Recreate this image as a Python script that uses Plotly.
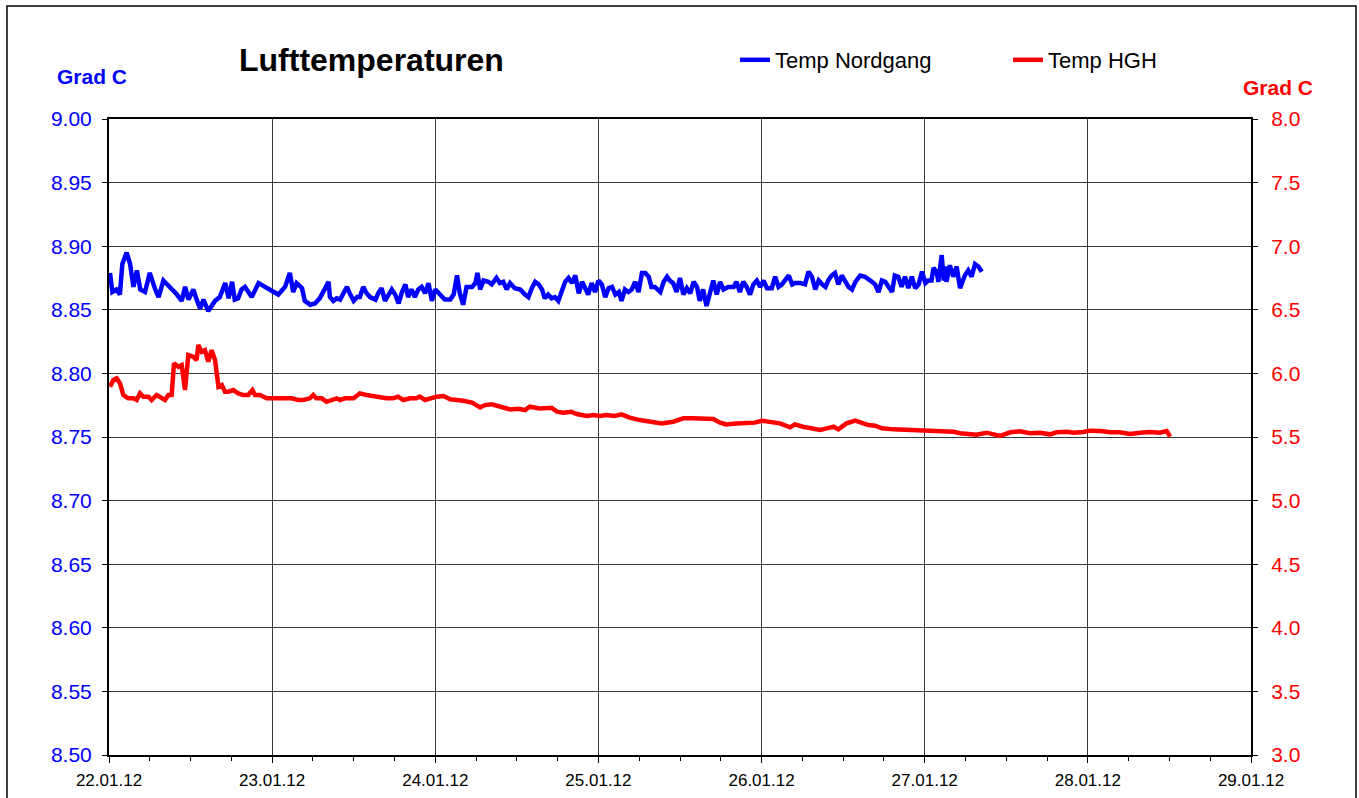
import pandas as pd
import plotly.graph_objects as go

# ---- data (hours after 22.01.12 00:00, temperature in Grad C) ----
nord_hours = [0.15, 0.5, 1.1, 1.6, 1.96, 2.6, 3.1, 3.6, 4.1, 4.6, 5.3, 6.0, 6.8, 7.3, 8.0, 9.0, 10.0, 10.7,
              11.2, 11.7, 12.4, 12.9, 13.4, 13.9, 14.6, 15.6, 16.3, 17.1, 17.6, 18.1, 18.5, 19.0, 19.5, 20.0,
              20.5, 21.0, 22.0, 23.0, 23.9, 24.9, 25.9, 26.6, 27.1, 27.6, 28.4, 28.8, 29.6, 30.3, 31.0, 31.8,
              32.3, 32.5, 33.0, 33.5, 34.0, 34.5, 35.0, 35.5, 36.0, 36.5, 36.9, 37.4, 37.9, 38.4, 39.2, 39.6,
              40.1, 40.6, 41.1, 41.6, 42.1, 42.6, 43.1, 43.6, 44.0, 44.5, 45.0, 45.5, 46.0, 46.5, 47.0, 47.5,
              48.0, 48.7, 49.4, 50.2, 50.7, 51.2, 51.6, 52.1, 52.6, 53.4, 53.9, 54.2, 54.6, 55.1, 55.8, 56.3,
              57.0, 57.5, 58.0, 58.5, 59.0, 59.7, 60.5, 61.2, 61.7, 62.2, 62.7, 63.2, 63.7, 64.1, 64.6, 65.1,
              65.6, 66.1, 66.6, 67.1, 67.6, 68.1, 68.6, 69.1, 69.6, 70.0, 70.5, 71.0, 71.5, 72.0, 72.5, 73.0,
              73.5, 74.0, 74.5, 75.0, 75.4, 75.9, 76.4, 76.9, 77.4, 77.9, 78.4, 78.9, 79.4, 79.8, 80.3, 81.1,
              81.6, 82.1, 82.5, 83.0, 83.5, 84.0, 84.5, 85.0, 85.5, 86.0, 86.5, 86.9, 87.4, 87.9, 88.4, 88.9,
              89.4, 89.9, 90.4, 91.1, 91.9, 92.3, 92.8, 93.3, 93.8, 94.3, 94.8, 95.3, 95.8, 96.3, 96.8, 97.0,
              97.5, 98.0, 98.5, 99.0, 99.5, 100.0, 100.5, 100.9, 101.7, 102.4, 102.9, 103.4, 103.9, 104.4,
              104.9, 105.4, 105.8, 106.3, 106.8, 107.3, 107.8, 108.3, 108.8, 109.3, 109.8, 110.5, 111.2, 112.0,
              112.7, 113.2, 113.7, 114.2, 114.7, 115.2, 115.6, 116.1, 116.6, 117.1, 117.6, 118.1, 118.6, 119.1,
              119.6, 120.1, 120.5, 121.0, 121.3, 121.8, 122.0, 122.5, 122.8, 123.0, 123.2, 123.7, 124.2, 124.7,
              125.2, 125.9, 126.4, 126.9, 127.4, 127.9, 128.4]
nord_temp = [8.879, 8.864, 8.866, 8.862, 8.886, 8.895, 8.886, 8.868, 8.881, 8.866, 8.864, 8.879, 8.866, 8.860,
             8.873, 8.868, 8.862, 8.857, 8.868, 8.858, 8.866, 8.858, 8.851, 8.858, 8.849, 8.857, 8.860, 8.871,
             8.859, 8.872, 8.858, 8.859, 8.866, 8.868, 8.864, 8.860, 8.871, 8.868, 8.866, 8.862, 8.868, 8.879,
             8.864, 8.871, 8.867, 8.857, 8.854, 8.855, 8.859, 8.867, 8.872, 8.860, 8.857, 8.859, 8.858, 8.863,
             8.868, 8.862, 8.857, 8.860, 8.860, 8.868, 8.863, 8.860, 8.858, 8.863, 8.867, 8.857, 8.862, 8.866,
             8.862, 8.855, 8.864, 8.870, 8.860, 8.866, 8.860, 8.866, 8.868, 8.863, 8.871, 8.857, 8.866, 8.862,
             8.858, 8.858, 8.862, 8.877, 8.863, 8.854, 8.868, 8.868, 8.871, 8.879, 8.866, 8.873, 8.872, 8.870,
             8.875, 8.871, 8.872, 8.866, 8.871, 8.867, 8.866, 8.862, 8.860, 8.867, 8.872, 8.870, 8.866, 8.859,
             8.862, 8.859, 8.860, 8.857, 8.864, 8.872, 8.875, 8.871, 8.877, 8.863, 8.872, 8.868, 8.862, 8.871,
             8.864, 8.873, 8.870, 8.860, 8.867, 8.868, 8.862, 8.864, 8.857, 8.866, 8.864, 8.866, 8.872, 8.864,
             8.879, 8.879, 8.876, 8.868, 8.868, 8.864, 8.872, 8.876, 8.873, 8.871, 8.864, 8.875, 8.862, 8.867,
             8.863, 8.872, 8.868, 8.857, 8.866, 8.853, 8.862, 8.873, 8.862, 8.872, 8.866, 8.868, 8.868, 8.872,
             8.864, 8.872, 8.868, 8.862, 8.870, 8.873, 8.868, 8.873, 8.867, 8.867, 8.867, 8.876, 8.868, 8.870,
             8.873, 8.877, 8.870, 8.871, 8.871, 8.870, 8.880, 8.876, 8.866, 8.873, 8.870, 8.868, 8.873, 8.877,
             8.879, 8.870, 8.877, 8.872, 8.868, 8.866, 8.872, 8.877, 8.876, 8.873, 8.870, 8.864, 8.873, 8.872,
             8.868, 8.864, 8.877, 8.876, 8.868, 8.876, 8.867, 8.876, 8.867, 8.870, 8.880, 8.871, 8.873, 8.873,
             8.883, 8.879, 8.872, 8.893, 8.873, 8.884, 8.872, 8.885, 8.876, 8.884, 8.867, 8.877, 8.881, 8.876,
             8.886, 8.884, 8.880]

hgh_hours = [0.15, 0.64, 1.13, 1.62, 2.11, 2.85, 3.58, 4.07, 4.56, 5.05, 5.79, 6.28, 7.01, 7.5, 8.24, 8.73,
             9.22, 9.56, 10.2, 10.69, 11.18, 11.67, 12.4, 12.89, 13.14, 13.63, 14.12, 14.6, 15.1, 15.6, 16.1,
             16.6, 17.06, 17.55, 18.28, 19.02, 19.75, 20.49, 21.1, 21.47, 22.2, 23.2, 24.16, 25.1, 26.1, 26.9,
             27.8, 28.6, 29.55, 30.04, 30.5, 31.3, 32.0, 32.7, 33.5, 34.0, 34.7, 36.0, 36.9, 37.9, 39.35, 40.8,
             41.8, 42.5, 43.3, 44.3, 45.2, 45.7, 46.5, 47.2, 48.2, 49.2, 50.2, 52.1, 53.4, 54.6, 55.3, 56.3,
             57.5, 59.0, 60.2, 61.2, 61.9, 63.4, 65.1, 65.9, 66.8, 68.0, 68.8, 70.3, 71.2, 72.2, 73.2, 74.4,
             75.4, 76.6, 78.1, 79.6, 81.3, 83.0, 84.5, 85.9, 87.4, 88.9, 89.9, 90.8, 92.3, 93.8, 95.0, 96.0,
             97.2, 98.7, 100.2, 100.9, 102.1, 103.6, 104.6, 105.6, 106.6, 107.3, 108.5, 109.8, 110.7, 111.7,
             112.7, 113.7, 115.4, 117.4, 118.8, 120.1, 121.8, 123.2, 124.2, 125.2, 126.2, 127.6, 129.1, 130.1,
             131.1, 132.6, 134.0, 135.5, 137.0, 138.4, 139.4, 140.9, 141.9, 143.3, 144.3, 145.8, 147.3, 148.7,
             150.2, 151.7, 153.1, 154.6, 155.6, 156.1]
hgh_temp = [5.895, 5.948, 5.961, 5.921, 5.830, 5.804, 5.804, 5.791, 5.843, 5.817, 5.817, 5.791, 5.830, 5.817,
            5.791, 5.830, 5.830, 6.079, 6.052, 6.065, 5.869, 6.144, 6.131, 6.105, 6.223, 6.170, 6.183, 6.092,
            6.183, 6.105, 5.895, 5.908, 5.856, 5.856, 5.869, 5.843, 5.830, 5.830, 5.869, 5.830, 5.830, 5.804,
            5.804, 5.804, 5.804, 5.804, 5.791, 5.791, 5.804, 5.830, 5.804, 5.804, 5.777, 5.791, 5.804, 5.791,
            5.804, 5.804, 5.843, 5.830, 5.817, 5.804, 5.804, 5.817, 5.791, 5.804, 5.804, 5.817, 5.791, 5.804,
            5.817, 5.822, 5.796, 5.785, 5.770, 5.733, 5.751, 5.757, 5.738, 5.717, 5.722, 5.712, 5.738, 5.725,
            5.730, 5.699, 5.691, 5.699, 5.681, 5.665, 5.673, 5.665, 5.673, 5.665, 5.678, 5.652, 5.633, 5.620,
            5.607, 5.620, 5.647, 5.647, 5.647, 5.641, 5.613, 5.599, 5.607, 5.607, 5.613, 5.628, 5.615, 5.607,
            5.576, 5.599, 5.581, 5.568, 5.555, 5.568, 5.581, 5.560, 5.607, 5.628, 5.613, 5.594, 5.589, 5.568,
            5.560, 5.555, 5.550, 5.555, 5.547, 5.539, 5.542, 5.529, 5.524, 5.518, 5.534, 5.521, 5.508, 5.537,
            5.545, 5.529, 5.534, 5.521, 5.537, 5.542, 5.534, 5.539, 5.550, 5.547, 5.537, 5.537, 5.524, 5.534,
            5.539, 5.534, 5.547, 5.503]

x_tick_days = ["2012-01-22", "2012-01-23", "2012-01-24", "2012-01-25",
               "2012-01-26", "2012-01-27", "2012-01-28", "2012-01-29"]
x_tick_labels = ["22.01.12", "23.01.12", "24.01.12", "25.01.12",
                 "26.01.12", "27.01.12", "28.01.12", "29.01.12"]

start = pd.Timestamp("2012-01-22 00:00")
nord_time = start + pd.to_timedelta(nord_hours, unit="h")
hgh_time = start + pd.to_timedelta(hgh_hours, unit="h")

FONT = "Liberation Sans, Arial, sans-serif"
BLUE = "#0000FF"
RED = "#FF0000"
GRID = "#3a3a3a"

W, H = 1359, 798
L, R, T, B = 109, 108, 119, 43
PW, PH = W - L - R, H - T - B


def px(x):
    return (x - L) / PW


def py(y):
    return (H - B - y) / PH


fig = go.Figure()
fig.add_trace(go.Scatter(x=nord_time, y=nord_temp, mode="lines", name="Temp Nordgang",
                         line=dict(color=BLUE, width=4.5), yaxis="y"))
fig.add_trace(go.Scatter(x=hgh_time, y=hgh_temp, mode="lines", name="Temp HGH",
                         line=dict(color=RED, width=4.5), yaxis="y2"))

fig.update_layout(
    width=W, height=H,
    margin=dict(l=L, r=R, t=T, b=B, pad=0, autoexpand=False),
    paper_bgcolor="white", plot_bgcolor="white",
    font=dict(family=FONT, color="black"),
    hovermode=False,
    showlegend=True,
    legend=dict(orientation="h", x=px(735), y=py(60), xanchor="left", yanchor="middle",
                font=dict(size=22, family=FONT, color="black"),
                entrywidth=228, entrywidthmode="pixels",
                bgcolor="rgba(0,0,0,0)", itemwidth=30, tracegroupgap=0),
    xaxis=dict(
        type="date",
        range=["2012-01-22", "2012-01-29"],
        tickvals=x_tick_days, ticktext=x_tick_labels,
        showgrid=True, gridcolor=GRID, gridwidth=1,
        showline=True, linecolor="black", linewidth=2, mirror=True,
        ticks="outside", ticklen=6, tickcolor="black", tickwidth=1,
        tickfont=dict(size=17, family=FONT, color="black"),
        ticklabelstandoff=3, automargin=False,
        minor=dict(dtick=6 * 3600 * 1000, ticks="outside", ticklen=4, tickcolor="black",
                   showgrid=False),
        zeroline=False,
    ),
    yaxis=dict(
        range=[8.5, 9.0], dtick=0.05, tick0=8.5, tickformat=".2f",
        showgrid=True, gridcolor=GRID, gridwidth=1,
        showline=True, linecolor="black", linewidth=2, mirror=True,
        ticks="outside", ticklen=5, tickcolor="black",
        tickfont=dict(size=21, family=FONT, color=BLUE),
        ticklabelstandoff=6, automargin=False,
        zeroline=False,
    ),
    yaxis2=dict(
        range=[3.0, 8.0], dtick=0.5, tick0=3.0, tickformat=".1f",
        overlaying="y", side="right", showgrid=False,
        showline=True, linecolor="black", linewidth=2,
        ticks="outside", ticklen=5, tickcolor="black",
        tickfont=dict(size=21, family=FONT, color=RED),
        ticklabelstandoff=9, automargin=False,
        zeroline=False,
    ),
    annotations=[
        dict(text="<b>Lufttemperaturen</b>", x=px(371), y=py(60), xref="paper", yref="paper",
             showarrow=False, xanchor="center", yanchor="middle",
             font=dict(size=32, family=FONT, color="black")),
        dict(text="<b>Grad C</b>", x=px(92), y=py(77), xref="paper", yref="paper",
             showarrow=False, xanchor="center", yanchor="middle",
             font=dict(size=21, family=FONT, color=BLUE)),
        dict(text="<b>Grad C</b>", x=px(1278), y=py(87), xref="paper", yref="paper",
             showarrow=False, xanchor="center", yanchor="middle",
             font=dict(size=21, family=FONT, color=RED)),
    ],
    shapes=[
        dict(type="rect", xref="paper", yref="paper",
             x0=px(7), x1=px(1356), y0=py(806), y1=py(6),
             line=dict(color="black", width=1.5), fillcolor="rgba(0,0,0,0)", layer="above"),
    ],
)

fig.write_html(
    "out.html",
    config={"displayModeBar": False, "staticPlot": True},
    post_script="document.body.style.margin='0';document.body.style.overflow='hidden';",
)
